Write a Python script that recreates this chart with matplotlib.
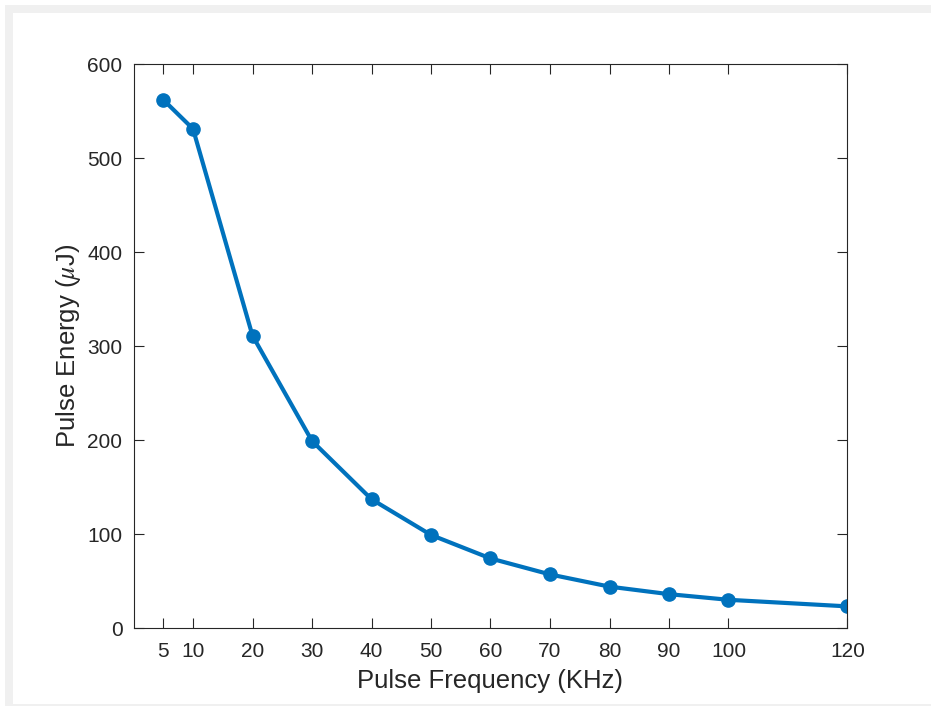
import matplotlib.pyplot as plt
from matplotlib.patches import Rectangle

# pulse frequency (KHz) vs pulse energy (uJ)
freq = [5, 10, 20, 30, 40, 50, 60, 70, 80, 90, 100, 120]
energy = [562, 531, 311, 199, 137, 99, 74, 57, 44, 36, 30, 23]
y_ticks = [0, 100, 200, 300, 400, 500, 600]

plt.rcParams['font.family'] = ['Liberation Sans', 'DejaVu Sans']
plt.rcParams['mathtext.fontset'] = 'stix'

fig = plt.figure(figsize=(9.31, 7.06), dpi=100)
fig.patch.set_facecolor('white')

# light gray frame around the figure like the screenshot
fig.patches.append(Rectangle((5 / 931, 0), 8 / 931, 1 - 5 / 706, transform=fig.transFigure,
                             facecolor='#f0f0f0', edgecolor='none', zorder=0))
fig.patches.append(Rectangle((5 / 931, 1 - 13 / 706), 1, 8 / 706, transform=fig.transFigure,
                             facecolor='#f0f0f0', edgecolor='none', zorder=0))
fig.patches.append(Rectangle((5 / 931, 0), 1, 2 / 706, transform=fig.transFigure,
                             facecolor='#f0f0f0', edgecolor='none', zorder=0))

ax = fig.add_axes([133.5 / 931, 1 - 628 / 706, (847.5 - 133.5) / 931, (628 - 64) / 706])

ax.plot(freq, energy, color='#0072BD', linewidth=3, marker='o', markersize=9.5)

ax.set_xlim(0, 120)
ax.set_ylim(0, 600)
ax.set_xticks(freq)
ax.set_yticks(y_ticks)

for s in ax.spines.values():
    s.set_color('#262626')
    s.set_linewidth(0.8)
ax.tick_params(direction='in', length=7, width=0.8, colors='#262626',
               labelsize=15, top=True, right=True)
ax.tick_params(axis='x', pad=10)
ax.tick_params(axis='y', pad=8)

ax.set_xlabel('Pulse Frequency (KHz)', fontsize=18.5, color='#262626', labelpad=6)
ax.set_ylabel(r'Pulse Energy ($\mu$J)', fontsize=18.5, color='#262626', labelpad=3)

plt.savefig('out.png', dpi=100)
